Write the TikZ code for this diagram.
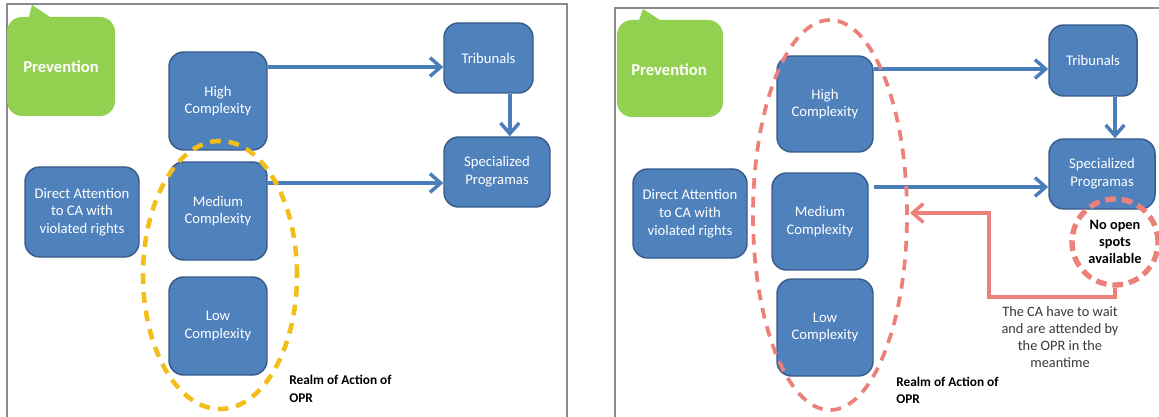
\documentclass[tikz,border=0pt]{standalone}
\usepackage{fontspec}
\setmainfont{Carlito}
\usetikzlibrary{arrows.meta,calc}

\definecolor{boxblue}{HTML}{4F81BD}
\definecolor{boxedge}{HTML}{385D8A}
\definecolor{arrowblue}{HTML}{4A7EBB}
\definecolor{leafgreen}{HTML}{92D050}
\definecolor{gold}{HTML}{F2BE1A}
\definecolor{salmon}{HTML}{EC8179}
\definecolor{framegray}{HTML}{8A8A8A}
\definecolor{notegray}{HTML}{3A3A3A}

\begin{document}
\begin{tikzpicture}[x=0.75pt,y=-0.75pt,
  box/.style={draw=boxedge, line width=1.1pt, fill=boxblue, rounded corners=11pt,
    text=white, align=center, inner sep=0pt,
    font=\fontsize{11}{13.3}\selectfont},
  prevtext/.style={text=white, inner sep=0pt, font=\bfseries\fontsize{12.5}{14}\selectfont},
  flow/.style={draw=arrowblue, line width=2.6pt, -{Straight Barb[length=8pt,width=14pt]}},
  waitline/.style={draw=salmon, line width=2.6pt, -{Straight Barb[length=8pt,width=14pt]}},
  realm/.style={anchor=west, align=left, inner sep=0pt, text=black,
    font=\bfseries\fontsize{10}{13}\selectfont},
  note/.style={align=center, inner sep=0pt, text=notegray,
    font=\fontsize{10.75}{12.6}\selectfont},
  spotring/.style={circle, draw=salmon, line width=4pt, dash pattern=on 8pt off 4.5pt,
    minimum size=64.5pt, inner sep=0pt, align=center, text=black,
    font=\bfseries\fontsize{10.75}{12.75}\selectfont},
  goldring/.style={draw=gold, line width=3.4pt, dash pattern=on 8pt off 6pt},
  salmonring/.style={draw=salmon, line width=2.8pt, dash pattern=on 8pt off 6pt},
  panel/.style={draw=framegray, line width=1.5pt}
]
\useasboundingbox (0,0) rectangle (1159,417);
\clip (0,0) rectangle (1159,417);
\fill[white] (0,0) rectangle (1159,417);

% ---------- panel frames ----------
\draw[panel] (7,440) -- (7,4) -- (567,4) -- (567,440);
\draw[panel] (615,440) -- (615,8) -- (1180,8);

% ---------- left panel ----------
\fill[leafgreen] (7,32) arc[start angle=180,end angle=90,radius=11.25pt]
  -- (29,17) -- (32,5) -- (50,17) -- (100,17)
  arc[start angle=90,end angle=0,radius=11.25pt] -- (115,101)
  arc[start angle=0,end angle=-90,radius=11.25pt] -- (22,116)
  arc[start angle=270,end angle=180,radius=11.25pt] -- cycle;
\node[prevtext] (prevL) at (61,67) {Prevention};

\node[box, minimum width=73.5pt, minimum height=73.5pt] (HighL) at (218,101) {High\\Complexity};
\node[box, minimum width=73.5pt, minimum height=73.5pt] (MedL) at (218,211) {Medium\\Complexity};
\node[box, minimum width=73.5pt, minimum height=73.5pt] (LowL) at (218,326) {Low\\Complexity};
\node[box, minimum width=85.5pt, minimum height=67.5pt] (DirL) at (82,212) {Direct Attention\\to CA with\\violated rights};
\node[box, minimum width=66.75pt, minimum height=52.5pt] (TribL) at (488.5,58) {Tribunals};
\node[box, minimum width=79.5pt, minimum height=52.5pt] (SpecL) at (497,172) {Specialized\\Programas};

\coordinate (yHL) at (0,67);
\coordinate (yML) at (0,183);
\draw[flow] (HighL.east |- yHL) -- (TribL.west |- yHL);
\draw[flow] (MedL.east |- yML) -- (SpecL.west |- yML);
\draw[flow] ([xshift=16pt]TribL.south) -- ([xshift=16pt]TribL.south |- SpecL.north);

\draw[goldring] (220,275) ellipse [x radius=57.75pt, y radius=100.5pt];
\node[realm] (realmL) at (289,389) {Realm of Action of\\OPR};

% ---------- right panel ----------
\fill[leafgreen] (617,35) arc[start angle=180,end angle=90,radius=11.25pt]
  -- (639,20) -- (643,9) -- (660,20) -- (708,20)
  arc[start angle=90,end angle=0,radius=11.25pt] -- (723,102)
  arc[start angle=0,end angle=-90,radius=11.25pt] -- (632,117)
  arc[start angle=270,end angle=180,radius=11.25pt] -- cycle;
\node[prevtext] (prevR) at (669,70) {Prevention};

\node[box, minimum width=72pt, minimum height=72pt] (HighR) at (825,104) {High\\Complexity};
\node[box, minimum width=72pt, minimum height=72.75pt] (MedR) at (820,221.5) {Medium\\Complexity};
\node[box, minimum width=72pt, minimum height=72.75pt] (LowR) at (825,327.5) {Low\\Complexity};
\node[box, minimum width=85.5pt, minimum height=66.75pt] (DirR) at (690,213.5) {Direct Attention\\to CA with\\violated rights};
\node[box, minimum width=66pt, minimum height=53.25pt] (TribR) at (1093,60.5) {Tribunals};
\node[box, minimum width=79.5pt, minimum height=52.5pt] (SpecR) at (1102,174) {Specialized\\Programas};

\coordinate (yHR) at (0,69);
\coordinate (yMR) at (0,187);
\draw[flow] (HighR.east |- yHR) -- (TribR.west |- yHR);
\draw[flow, shorten <=3.75pt] (MedR.east |- yMR) -- (SpecR.west |- yMR);
\draw[flow] ([xshift=16.5pt]TribR.south) -- ([xshift=16.5pt]TribR.south |- SpecR.north);

\draw[salmonring] (830,215) ellipse [x radius=57.75pt, y radius=146.25pt];

\node[spotring] (noSpots) at (1115,242) {No open\\spots\\available};
\coordinate (wB) at (989,297);
\coordinate (waitTip) at (910,213);
\draw[waitline] (noSpots.south) |- (wB) |- (waitTip);

\node[note] (waitNote) at (1060,337) {The CA have to wait\\and are attended by\\the OPR in the\\meantime};
\node[realm] (realmR) at (896,390.5) {Realm of Action of\\OPR};
\end{tikzpicture}
\end{document}
